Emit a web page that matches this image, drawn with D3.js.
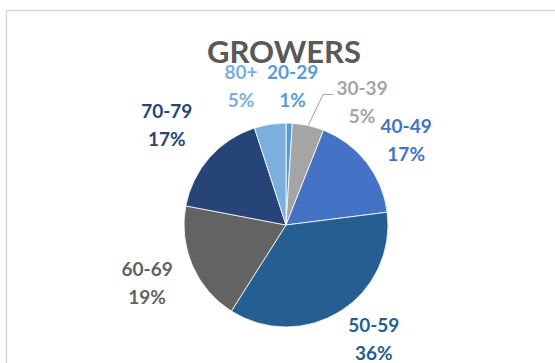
<!DOCTYPE html>
<html><head><meta charset="utf-8">
<script src="https://cdn.jsdelivr.net/npm/d3@7"></script>
<style>
html,body{margin:0;padding:0;background:#fff;}
svg{display:block;}
</style></head>
<body>
<svg id="chart" width="555" height="363"></svg>
<script>
const categories = ["20-29","30-39","40-49","50-59","60-69","70-79","80+"];
const values = [1,5,17,36,19,17,5];
const percentLabels = ["1%","5%","17%","36%","19%","17%","5%"];
const colors = ["#5b9bd5","#a5a5a5","#4472c4","#255e91","#636363","#264478","#7cafdd"];
const title = "GROWERS";

// label layout nudges (pixels) relative to the arc label radius
const labelNudge = [[2,8],[44,20],[4,5],[9,-10],[-4,0],[-9,-3],[-22,6]];

const svg = d3.select("#chart");
const W = 555, H = 363;
const cx = 286, cy = 225, R = 102, labelR = 147;

// chart border (top and left visible)
svg.append("path")
  .attr("d", `M6.5,${H} L6.5,10.5 L${W},10.5`)
  .attr("fill","none").attr("stroke","#d9d9d9").attr("stroke-width",1.5);

svg.append("text")
  .attr("x", 284).attr("y", 63)
  .attr("text-anchor","middle")
  .attr("font-family","Lato, 'Open Sans', sans-serif")
  .attr("font-weight","bold").attr("font-size",31)
  .attr("fill","#595959")
  .text(title);

const data = categories.map((c,i)=>({cat:c, value:values[i], pct:percentLabels[i], color:colors[i], nudge:labelNudge[i]}));
const pie = d3.pie().sort(null).value(d=>d.value).startAngle(0).endAngle(2*Math.PI);
const arcs = pie(data);
const arc = d3.arc().innerRadius(0).outerRadius(R);
const labelArc = d3.arc().innerRadius(labelR).outerRadius(labelR);

const g = svg.append("g").attr("transform",`translate(${cx},${cy})`);
g.selectAll("path.slice").data(arcs).join("path")
  .attr("class","slice")
  .attr("d",arc)
  .attr("fill",d=>d.data.color)
  .attr("stroke","#fff").attr("stroke-width",0.8);

const labels = g.selectAll("g.lbl").data(arcs).join("g").attr("class","lbl")
  .attr("transform", d=>{
    const [x,y] = labelArc.centroid(d);
    return `translate(${x+d.data.nudge[0]},${y+d.data.nudge[1]})`;
  });
labels.append("text").attr("y",-7).attr("text-anchor","middle")
  .attr("font-family","Lato, 'Open Sans', sans-serif").attr("font-weight","bold").attr("font-size",19)
  .attr("fill",d=>d.data.color).text(d=>d.data.cat);
labels.append("text").attr("y",21).attr("text-anchor","middle")
  .attr("font-family","Lato, 'Open Sans', sans-serif").attr("font-weight","bold").attr("font-size",19)
  .attr("fill",d=>d.data.color).text(d=>d.data.pct);

// leader line for 30-39
const lead = arcs[1];
const mid = (lead.startAngle+lead.endAngle)/2;
const p0 = [Math.sin(mid)*R, -Math.cos(mid)*R];
const [lx,ly] = labelArc.centroid(lead);
const tx = lx+lead.data.nudge[0], ty = ly+lead.data.nudge[1];
g.append("polyline")
  .attr("points", [p0,[tx-39,ty-7],[tx-29,ty-7]].map(p=>p.join(",")).join(" "))
  .attr("fill","none").attr("stroke","#a5a5a5").attr("stroke-width",1);
</script>
</body></html>
